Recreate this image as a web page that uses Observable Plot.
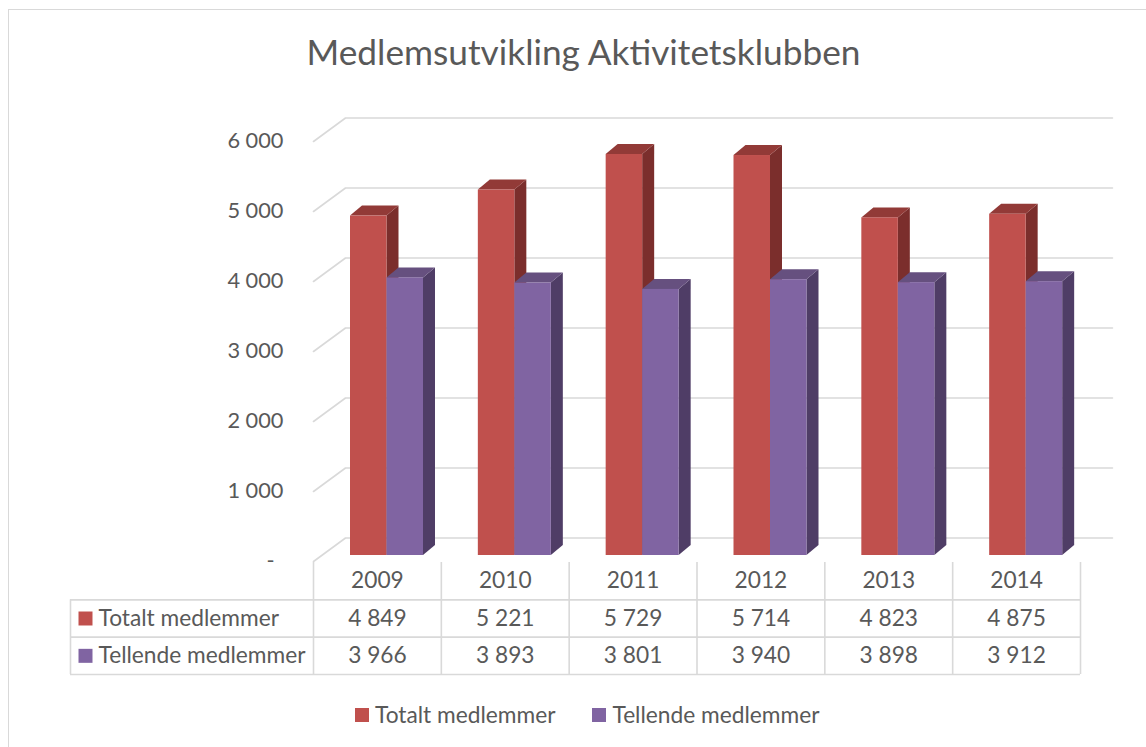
<!DOCTYPE html>
<html><head><meta charset="utf-8">
<script src="https://cdn.jsdelivr.net/npm/d3@7"></script>
<script src="https://cdn.jsdelivr.net/npm/@observablehq/plot@0.6"></script>
<style>
html,body{margin:0;padding:0;background:#fff;overflow:hidden;}
#wrap{position:relative;width:1146px;height:747px;overflow:hidden;font-family:Lato,"Open Sans",sans-serif;color:#595959;}
#frame{position:absolute;left:8px;top:9px;width:1300px;height:900px;border-left:1.5px solid #d9d9d9;border-top:1.5px solid #d9d9d9;box-sizing:border-box;}
#title{position:absolute;left:583.5px;transform:translateX(-50%);white-space:nowrap;line-height:1;}
#chart{position:absolute;left:0;top:100px;}
#table{position:absolute;left:0;top:556px;}
#legend{position:absolute;left:355px;top:700px;display:flex;gap:37px;white-space:nowrap;}
#legend .item{display:flex;align-items:center;gap:6px;line-height:30px;}
#legend .sw{width:14px;height:14px;display:inline-block;}
</style></head><body>
<div id="wrap"><div id="frame"></div><div id="title"></div><div id="chart"></div><div id="table"></div><div id="legend"></div></div>
<script>
// ---- data ----
const titleText = "Medlemsutvikling Aktivitetsklubben";
const years = ["2009", "2010", "2011", "2012", "2013", "2014"];
const seriesNames = ["Totalt medlemmer", "Tellende medlemmer"];
const totalt = [4849, 5221, 5729, 5714, 4823, 4875];
const tellende = [3966, 3893, 3801, 3940, 3898, 3912];
const yTicks = [0, 1000, 2000, 3000, 4000, 5000, 6000];

// ---- style ----
const FONT = "Lato";
const frontColor = ["#C0504D", "#8064A2"];
const topColor = ["#923A37", "#66507F"];
const sideColor = ["#7B2E2C", "#4F3D66"];
const gridColor = "#d9d9d9";
const textColor = "#595959";

// fit font sizes to the reference widths
const ctx = document.createElement("canvas").getContext("2d");
function fit(text, w) { ctx.font = `100px ${FONT}`; return 100 * w / ctx.measureText(text).width; }
const titleSize = fit(titleText, 539) * 1.03;
const axisSize = fit("6 000", 51) * 1.1;
const tableSize = fit("Tellende medlemmer", 207);

const fmt = v => v === 0 ? "-" : d3.format(",")(v).replace(/,/g, " ");
const series = [totalt, tellende];

// ---- title ----
const t = document.getElementById("title");
t.textContent = titleText;
t.style.fontSize = titleSize + "px";
t.style.top = (65 - 0.89 * titleSize) + "px";

// ---- main 3D column chart ----
const X0 = 313, X1 = 1080, Y0 = 455, Y1 = 35;
const pxX = (X1 - X0) / years.length;
const pxY = (Y0 - Y1) / 6000;
const ddx = 12 / pxX, ddy = 10 / pxY;     // extrusion depth
const gdx = 32 / pxX, gdyBack = 17.5 / pxY, gdyFront = -6 / pxY; // wall depth

const bars = [];
years.forEach((yr, i) => {
  series.forEach((vals, s) => {
    const off = [[37, 73.5], [73.5, 110]][s];
    bars.push({k: `${s}-${i}`, s, v: vals[i], x1: i + off[0] / pxX, x2: i + off[1] / pxX});
  });
});
const sides = bars.flatMap(b => [
  {k: b.k, s: b.s, x: b.x2, y1: 0, y2: b.v},
  {k: b.k, s: b.s, x: b.x2 + ddx, y1: ddy, y2: b.v + ddy}
]);
const tops = bars.flatMap(b => [
  {k: b.k, s: b.s, y: b.v, x1: b.x1, x2: b.x2},
  {k: b.k, s: b.s, y: b.v + ddy, x1: b.x1 + ddx, x2: b.x2 + ddx}
]);
const grid = yTicks.flatMap(v => [
  {v, x: 0, y: v + gdyFront},
  {v, x: gdx, y: v + gdyBack},
  {v, x: years.length + gdx, y: v + gdyBack}
]);

const barMarks = [0, 1].flatMap(s => [
  Plot.area(sides.filter(d => d.s === s), {x1: "x", y1: "y1", y2: "y2", z: "k", fill: sideColor[s]}),
  Plot.area(tops.filter(d => d.s === s), {x1: "x1", x2: "x2", y1: "y", z: "k", fill: topColor[s]}),
  Plot.rect(bars.filter(d => d.s === s), {x1: "x1", x2: "x2", y1: 0, y2: "v", fill: frontColor[s]})
]);

const chart = Plot.plot({
  width: 1146, height: 470, margin: 0,
  x: {domain: [0, years.length], range: [X0, X1], axis: null},
  y: {domain: [0, 6000], range: [Y0, Y1], axis: null},
  style: {background: "transparent", overflow: "visible", fontFamily: FONT},
  marks: [
    Plot.line(grid, {x: "x", y: "y", z: "v", stroke: gridColor, strokeWidth: 1.6}),
    ...barMarks,
    Plot.text(yTicks.filter(v => v > 0), {x: 0, y: v => v + gdyFront, text: fmt, textAnchor: "end", dx: -30, fill: textColor, fontSize: axisSize}),
    Plot.text([0], {x: 0, y: v => v + gdyFront, text: fmt, textAnchor: "end", dx: -39, fill: textColor, fontSize: axisSize})
  ]
});
document.getElementById("chart").appendChild(chart);

// ---- data table ----
const labelLeft = (70 - X0) / pxX;
const cells = [];
years.forEach((yr, i) => {
  cells.push({x: i + 0.5, r: 0, text: yr});
  series.forEach((vals, s) => cells.push({x: i + 0.5, r: s + 1, text: fmt(vals[i])}));
});
const rowLabels = seriesNames.map((n, s) => ({r: s + 1, text: n, s}));

const table = Plot.plot({
  width: 1146, height: 122, margin: 0,
  x: {domain: [0, years.length], range: [X0, X1], axis: null},
  y: {domain: [0, 3], range: [6, 118], axis: null},
  style: {background: "transparent", overflow: "visible", fontFamily: FONT},
  marks: [
    Plot.ruleY([1, 2, 3], {x1: labelLeft, x2: years.length, stroke: gridColor, strokeWidth: 1.6}),
    Plot.ruleX(d3.range(years.length + 1), {y1: 0, y2: 3, stroke: gridColor, strokeWidth: 1.6}),
    Plot.ruleX([labelLeft], {y1: 1, y2: 3, stroke: gridColor, strokeWidth: 1.6}),
    Plot.text(cells, {x: "x", y: d => d.r + 0.5, text: "text", fill: textColor, fontSize: tableSize}),
    Plot.dot(rowLabels, {x: labelLeft, y: d => d.r + 0.5, dx: 15, symbol: "square", r: 7.9, fill: d => frontColor[d.s], stroke: "none"}),
    Plot.text(rowLabels, {x: labelLeft, y: d => d.r + 0.5, dx: 28, text: "text", textAnchor: "start", fill: textColor, fontSize: tableSize})
  ],
  color: {type: "identity"}
});
document.getElementById("table").appendChild(table);

// ---- legend ----
const lg = document.getElementById("legend");
lg.style.fontSize = tableSize + "px";
seriesNames.forEach((n, s) => {
  const it = document.createElement("div");
  it.className = "item";
  it.innerHTML = `<span class="sw" style="background:${frontColor[s]}"></span><span>${n}</span>`;
  lg.appendChild(it);
});
</script>
</body></html>
